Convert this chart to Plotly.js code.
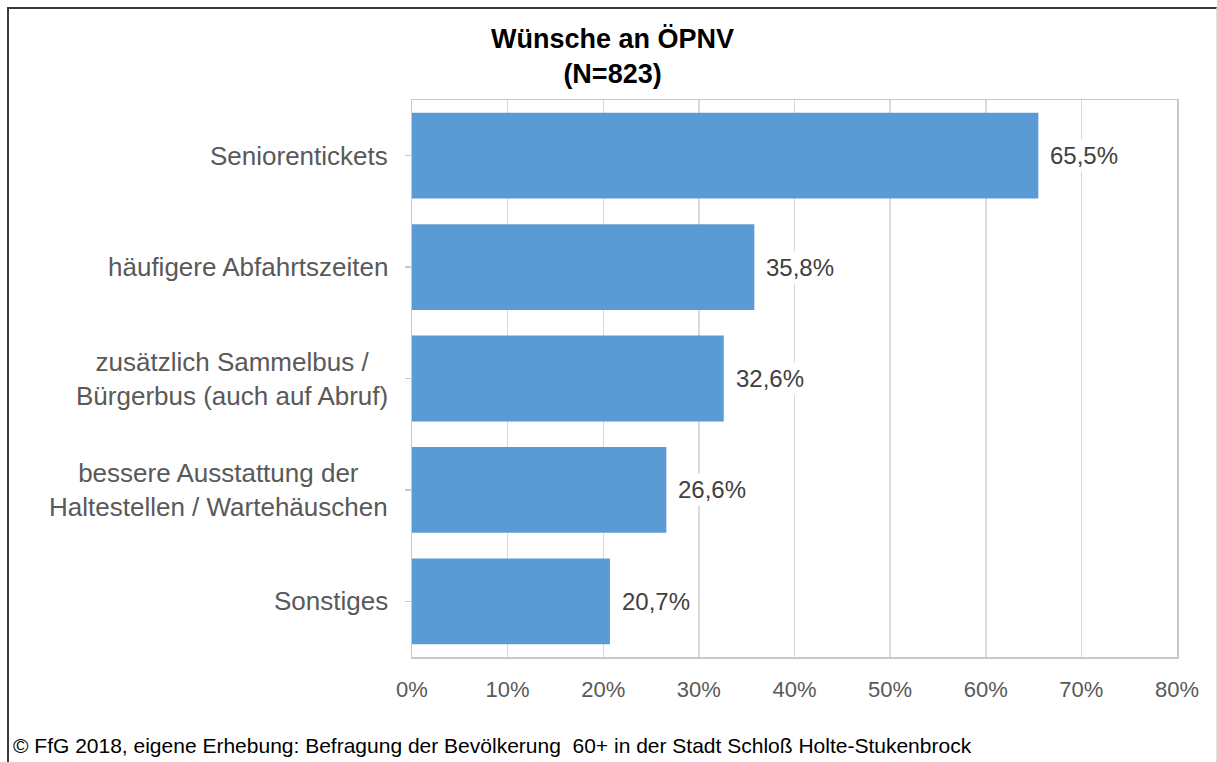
<!DOCTYPE html>
<html>
<head>
<meta charset="utf-8">
<script src="https://cdn.plot.ly/plotly-3.0.1.min.js"></script>
<style>
html,body{margin:0;padding:0;background:#fff;}
#wrap{position:relative;width:1217px;height:762px;overflow:hidden;}
#chart{position:absolute;left:0;top:0;width:1217px;height:762px;}
#frame{position:absolute;left:7px;top:7px;width:1207px;height:770px;border-left:2px solid #3a3a3a;border-top:2px solid #3a3a3a;border-right:1px solid #e0e0e0;pointer-events:none;}
</style>
</head>
<body>
<div id="wrap"><div id="chart"></div><div id="frame"></div></div>
<script>
const categories = [
  "Seniorentickets",
  "häufigere Abfahrtszeiten",
  "zusätzlich Sammelbus /<br>Bürgerbus (auch auf Abruf)",
  "bessere Ausstattung der<br>Haltestellen / Wartehäuschen",
  "Sonstiges"
];
const values = [65.5, 35.8, 32.6, 26.6, 20.7];
const xTicks = [0, 10, 20, 30, 40, 50, 60, 70, 80];
const titleText = "<b>Wünsche an ÖPNV<br>(N=823)</b>";
const footerText = "© FfG 2018, eigene Erhebung: Befragung der Bevölkerung  60+ in der Stadt Schloß Holte-Stukenbrock";

const FONT = '"Liberation Sans", Arial, Helvetica, sans-serif';

const trace = {
  type: 'bar',
  orientation: 'h',
  x: values,
  y: categories,
  marker: {color: '#5B9BD5'},
  hoverinfo: 'skip'
};

const annotations = [];
categories.forEach((c, i) => {
  annotations.push({
    xref: 'paper', yref: 'y', x: 0, y: c,
    xanchor: 'right', yanchor: 'middle', xshift: -22,
    text: c, showarrow: false, align: 'center',
    font: {family: FONT, size: 26, color: '#595959'}
  });
  annotations.push({
    xref: 'x', yref: 'y', x: values[i], y: c,
    xanchor: 'left', yanchor: 'middle', xshift: 9,
    text: values[i].toFixed(1).replace('.', ',') + '%',
    showarrow: false, bgcolor: '#ffffff', borderpad: 2,
    font: {family: FONT, size: 24, color: '#404040'}
  });
});
// title
annotations.push({
  xref: 'paper', yref: 'paper', x: (612 - 412) / 765, y: 1 + (100 - 56) / 557,
  xanchor: 'center', yanchor: 'middle', showarrow: false,
  text: titleText, align: 'center',
  font: {family: FONT, size: 27, color: '#000000'}
});
// footer
annotations.push({
  xref: 'paper', yref: 'paper', x: (11 - 412) / 765, y: (657 - 745) / 557,
  xanchor: 'left', yanchor: 'middle', showarrow: false,
  text: footerText, align: 'left',
  font: {family: FONT, size: 21, color: '#000000'}
});

const layout = {
  width: 1217, height: 762,
  margin: {l: 412, r: 40, t: 100, b: 105, pad: 0},
  paper_bgcolor: '#ffffff', plot_bgcolor: '#ffffff',
  showlegend: false,
  bargap: 0.23,
  xaxis: {
    range: [0, 80],
    tickvals: xTicks,
    ticktext: xTicks.map(v => v + '%'),
    showgrid: true, gridcolor: '#d9d9d9', gridwidth: 1.5,
    zeroline: false,
    showline: true, linecolor: '#c8c8c8', linewidth: 1.5, mirror: true,
    ticks: '', ticklabelstandoff: 12,
    tickfont: {family: FONT, size: 22, color: '#595959'},
    fixedrange: true
  },
  yaxis: {
    categoryorder: 'array', categoryarray: categories,
    autorange: 'reversed',
    showticklabels: false,
    ticks: 'outside', ticklen: 6, tickcolor: '#c8c8c8', tickwidth: 1.5,
    showline: true, linecolor: '#c8c8c8', linewidth: 1.5, mirror: true,
    showgrid: false, zeroline: false,
    fixedrange: true
  },
  annotations: annotations,
  font: {family: FONT}
};

Plotly.newPlot('chart', [trace], layout, {displayModeBar: false, staticPlot: true});
</script>
</body>
</html>
